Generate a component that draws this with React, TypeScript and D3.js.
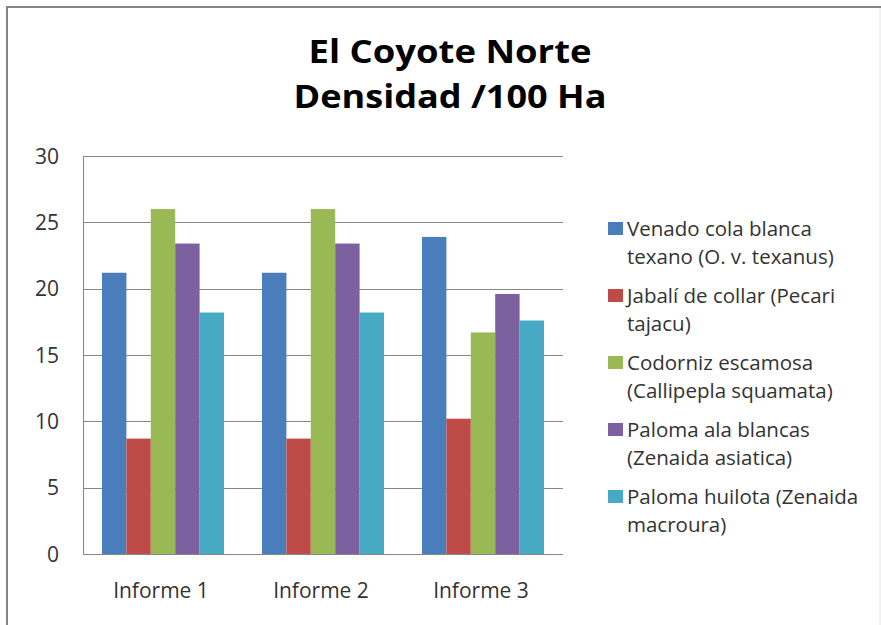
import React from "react";
import * as d3 from "d3";

const categories = ["Informe 1", "Informe 2", "Informe 3"];
const seriesNames = [
  ["Venado cola blanca", "texano (O. v. texanus)"],
  ["Jabalí de collar (Pecari", "tajacu)"],
  ["Codorniz escamosa", "(Callipepla squamata)"],
  ["Paloma ala blancas", "(Zenaida asiatica)"],
  ["Paloma huilota (Zenaida", "macroura)"],
];
const venado = [21.2, 21.2, 23.9];
const jabali = [8.7, 8.7, 10.2];
const codorniz = [26.0, 26.0, 16.7];
const palomaAla = [23.4, 23.4, 19.6];
const palomaHuilota = [18.2, 18.2, 17.6];
const seriesValues = [venado, jabali, codorniz, palomaAla, palomaHuilota];
const colors = ["#4a7ebb", "#be4b48", "#98b954", "#7d60a0", "#46aac5"];
const yTicks = [0, 5, 10, 15, 20, 25, 30];
const titleLines = ["El Coyote Norte", "Densidad /100 Ha"];
const titleWidths = [283, 313];

const W = 881;
const H = 625;
const plot = { left: 83, right: 563, top: 156, bottom: 554 };

export default function App() {
  const x0 = d3
    .scaleBand<string>()
    .domain(categories)
    .range([plot.left, plot.right])
    .paddingInner(0.2375)
    .paddingOuter(0.11875);
  const x1 = d3
    .scaleBand<number>()
    .domain(d3.range(seriesValues.length))
    .range([0, x0.bandwidth()]);
  const y = d3.scaleLinear().domain([0, 30]).range([plot.bottom, plot.top]);

  const font = "'Open Sans', 'DejaVu Sans', sans-serif";
  const legendX = 608;
  const legendY0 = 236;
  const entryStep = 67;
  const lineStep = 28;

  return (
    <svg
      width={W}
      height={H}
      style={{ position: "absolute", left: 0, top: 0, background: "#fff" }}
      fontFamily={font}
    >
      <rect x={0} y={0} width={W} height={H} fill="#fff" />
      <rect x={7} y={7} width={W + 20} height={H + 20} fill="none" stroke="#858585" strokeWidth={2} />
      <line x1={W - 1} x2={W - 1} y1={8} y2={H} stroke="#e4e4e4" strokeWidth={1} />

      {titleLines.map((t, i) => (
        <text
          key={t}
          x={450}
          y={63 + i * 45}
          textAnchor="middle"
          fontSize={33}
          fontWeight="bold"
          fill="#000"
          textLength={titleWidths[i]}
          lengthAdjust="spacingAndGlyphs"
        >
          {t}
        </text>
      ))}

      {yTicks.map((t) => (
        <g key={t}>
          <line
            x1={plot.left}
            x2={plot.right}
            y1={Math.round(y(t)) + 0.5}
            y2={Math.round(y(t)) + 0.5}
            stroke="#868686"
            strokeWidth={1}
          />
          <text
            x={59}
            y={y(t)}
            dy="0.36em"
            textAnchor="end"
            fontSize={21}
            fill="#333"
          >
            {t}
          </text>
        </g>
      ))}
      <line
        x1={plot.left + 0.5}
        x2={plot.left + 0.5}
        y1={plot.top}
        y2={plot.bottom}
        stroke="#868686"
      />

      {categories.map((c, ci) => (
        <g key={c}>
          {seriesValues.map((vals, si) => (
            <rect
              key={si}
              x={(x0(c) as number) + (x1(si) as number)}
              y={y(vals[ci])}
              width={x1.bandwidth()}
              height={y(0) - y(vals[ci])}
              fill={colors[si]}
            />
          ))}
          <text
            x={(x0(c) as number) + x0.bandwidth() / 2 - 2}
            y={598}
            textAnchor="middle"
            fontSize={21}
            fill="#333"
          >
            {c}
          </text>
        </g>
      ))}
      <line
        x1={plot.left}
        x2={plot.right}
        y1={plot.bottom + 0.5}
        y2={plot.bottom + 0.5}
        stroke="#868686"
      />

      {seriesNames.map((lines, si) => {
        const by = legendY0 + si * entryStep;
        return (
          <g key={si}>
            <rect x={legendX} y={by - 14} width={15} height={13} fill={colors[si]} />
            {lines.map((ln, li) => (
              <text
                key={li}
                x={legendX + 19}
                y={by + li * lineStep}
                fontSize={20.5}
                fill="#333"
              >
                {ln}
              </text>
            ))}
          </g>
        );
      })}
    </svg>
  );
}
